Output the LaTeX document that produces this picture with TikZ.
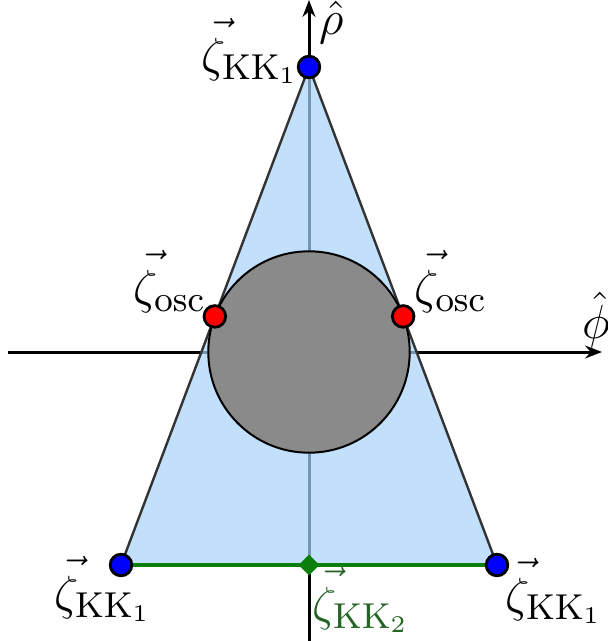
\documentclass[tikz,border=0pt]{standalone}
\usetikzlibrary{arrows.meta,calc,shapes.geometric}
\definecolor{trifill}{RGB}{168,211,251}
\definecolor{lblgreen}{RGB}{38,100,38}
\definecolor{linegreen}{RGB}{10,128,10}
\newcommand\zvec{\rlap{\hspace{1.8pt}\raisebox{1.6pt}{$\vec{\phantom{\zeta}}$}}\zeta}
\begin{document}
\begin{tikzpicture}[x=0.25pt,y=-0.25pt,
  axis/.style={line width=0.75pt,-{Stealth[length=4.2pt,width=3.2pt]}},
  dot/.style={circle,draw=black,line width=0.7pt,inner sep=0pt,minimum size=5.4pt},
  lab/.style={inner sep=0pt,font=\fontsize{12.5}{15}\selectfont}]
\useasboundingbox (0,0) rectangle (608,641);
\coordinate (O) at (309,352);
\coordinate (xl) at (8,352);
\coordinate (xr) at (602,352);
\coordinate (yb) at (309,641);
\coordinate (yt) at (309,0);
\draw[axis] (xl) -- (xr);
\draw[axis] (yb) -- (yt);
\coordinate (A) at (309,67);
\coordinate (B) at (121,565);
\coordinate (C) at (497,565);
\coordinate (M) at (309,565);
\fill[trifill,fill opacity=0.7] (A) -- (B) -- (C) -- cycle;
\draw[black!80,line width=0.6pt] (B) -- (A) -- (C);
\draw[linegreen,line width=0.8pt] (B) -- (C);
\draw[fill=black!46,line width=0.5pt] (O) circle [radius=100.7];
\coordinate (TL) at ($(A)!(O)!(B)$);
\coordinate (TR) at ($(A)!(O)!(C)$);
\node[dot,fill=red] (dTL) at (TL) {};
\node[dot,fill=red] (dTR) at (TR) {};
\node[dot,fill=blue] (dA) at (A) {};
\node[dot,fill=blue] (dB) at (B) {};
\node[dot,fill=blue] (dC) at (C) {};
\node[regular polygon,regular polygon sides=4,shape border rotate=45,fill=linegreen,inner sep=0pt,minimum size=5.2pt] (dM) at (M) {};
\node[lab] (lA) at (250,51) {$\zvec_{\mathrm{KK}_1}$};
\node[lab] (lB) at (103,589) {$\zvec_{\mathrm{KK}_1}$};
\node[lab] (lC) at (554,591) {$\zvec_{\mathrm{KK}_1}$};
\node[lab,text=lblgreen] (lM) at (361,600) {$\zvec_{\mathrm{KK}_2}$};
\node[lab] (lTL) at (170,282) {$\zvec_{\mathrm{osc}}$};
\node[lab] (lTR) at (451,282) {$\zvec_{\mathrm{osc}}$};
\node[lab] (lrho) at (332,23) {$\hat\rho$};
\node[lab] (lphi) at (596,320) {$\hat\phi$};
\end{tikzpicture}
\end{document}
